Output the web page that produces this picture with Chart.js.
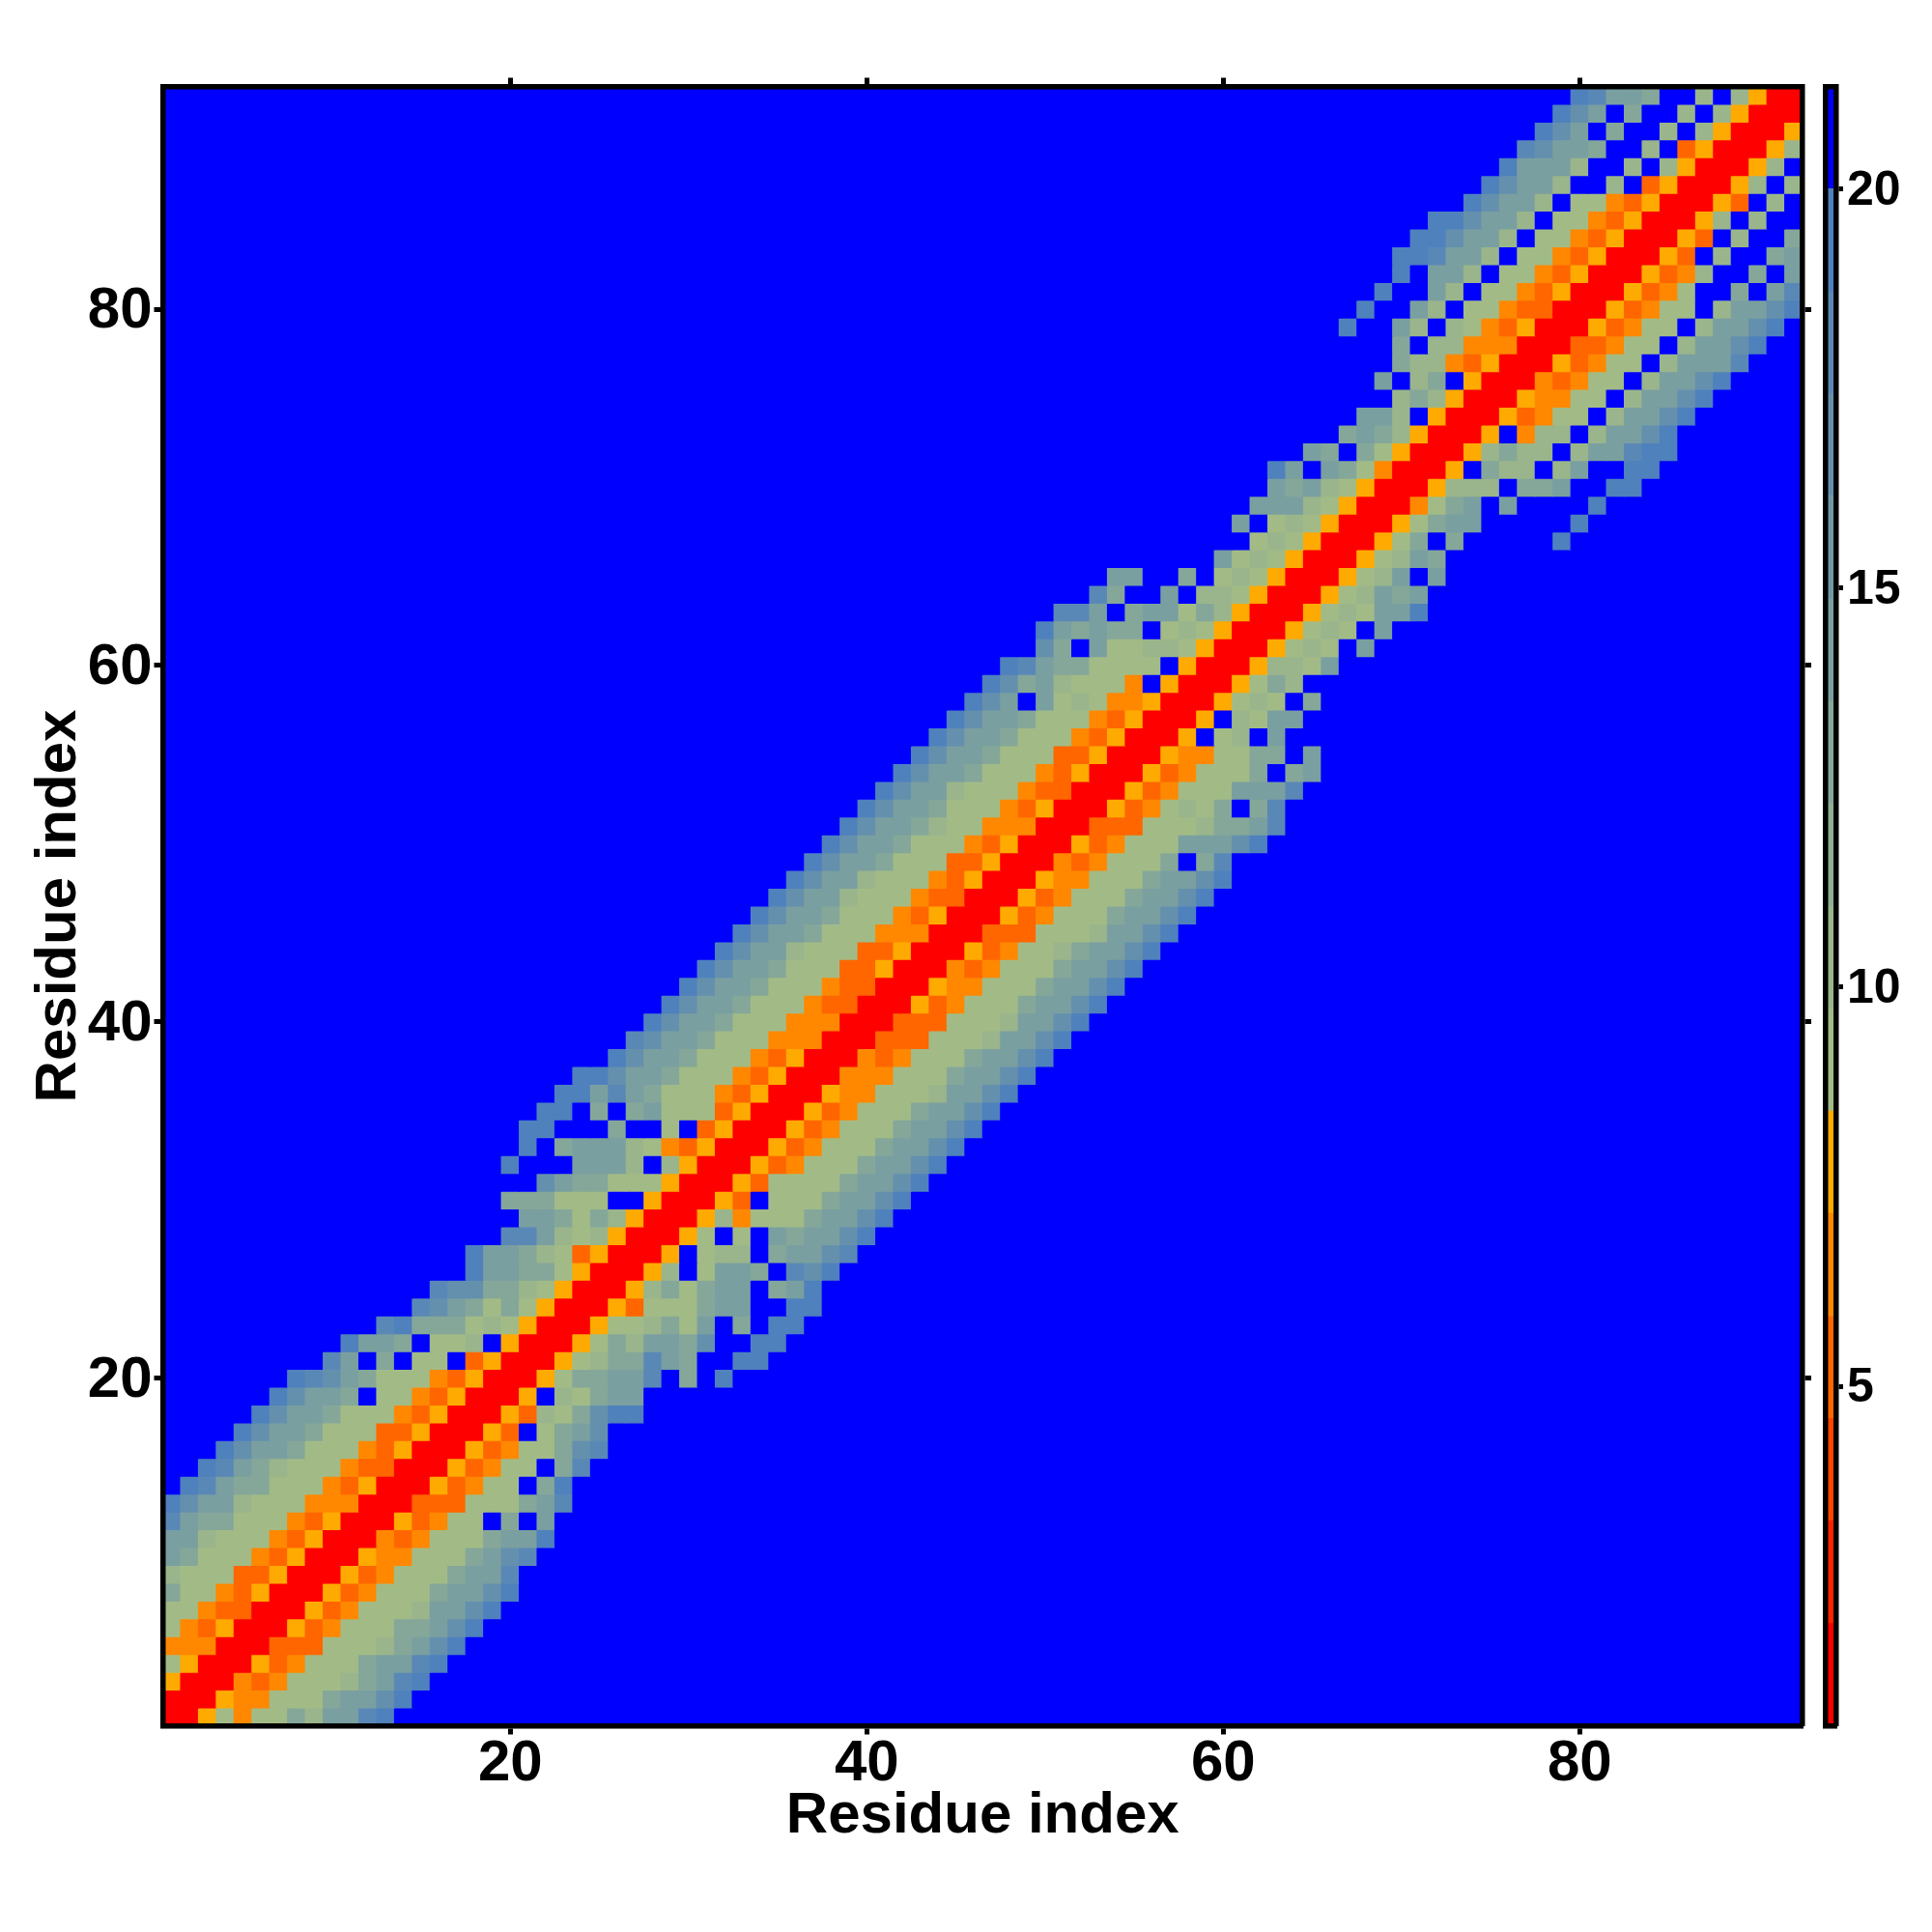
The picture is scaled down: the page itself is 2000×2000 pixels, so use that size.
<!DOCTYPE html>
<html>
<head>
<meta charset="utf-8">
<title>Residue distance map</title>
<script src="https://cdn.jsdelivr.net/npm/chart.js@4/dist/chart.umd.min.js"></script>
<style>
    body { margin: 0; background: #fff; }
    #map { position: absolute; left: 0; top: 0; }
    #bar { position: absolute; left: 1860px; top: 0; }
</style>
</head>
<body>
<canvas id="map" width="2000" height="2000"></canvas>
<canvas id="bar" width="140" height="2000"></canvas>
<script>
// the map is symmetric: one string per residue, read from the diagonal outwards
const bandRows = [
    "RR564668799bc", "RR544666899ac", "RR434666789bc", "RR534666899bc",
    "RR333666789ac", "RR534666889ac", "RR534666799ac", "RR534666899ac",
    "RR534666899b", "RR54466689ab", "RR434666899c", "RR53466f8f9",
    "RR33366689b", "RR53466f8c", "RR53466f8b", "RR534668ab",
    "RR53f689a", "RR53768acc", "RR5f76899", "RR568899bf8fc",
    "RR56788b98ffcc", "RR5687998affcc", "RR5667869f8fcc", "RR53666899ffcc",
    "RR5786899f89c", "RR57f6998fbac", "RR5f677f899ab", "RR56f6f9899ac",
    "RR574666899ac", "RR53f666899ac", "RR536666899ac", "RR534666899ac",
    "RR534666899ac", "RR534666899ac", "RR534666899ac", "RR544666799ac",
    "RR444666899ac", "RR434666899ac", "RR333666799ac", "RR333666799ac",
    "RR534666899ac", "RR544666899ac", "RR434666899ac", "RR534667899ac",
    "RR333666799ac", "RR534666899ac", "RR534666899ac", "RR544666899ac",
    "RR4346668f8b", "RR534666999ac", "RR3336667889b", "RR5346768f8b",
    "RR534666999b", "RR5346668f89", "RR5446688f9", "RR5f67f9",
    "RR5f7699", "RR5676f8", "RR5687", "RR57769",
    "RR5676f9", "RR5676f9", "RR567699c", "RR567989",
    "RR5679f9", "RR56798", "RR568f8fffffc", "RR56899fffffc",
    "RR4689f9ffffc", "RR5777f889ffcc", "RR5f877f79ffcc", "RR57877f799bcc",
    "RR5f477f799ac", "RR53466f799ac", "RR54466f799ac", "RR43466f799ac",
    "RR53466f7999b", "RR33466f799ac", "RR53466f799ac", "RR53466f799ac",
    "RR5346ff8f9b", "RR5347ff8f9", "RR53f7ff89", "RR53f7ff8",
    "RR57f7ff", "RR53f7f", "RR57f7", "RR57f",
    "RR57", "RR5", "RR", "R"
];
const distanceByCode = { R: 1.4, 3: 5.2, 4: 6.5, 5: 7.8, 6: 9.1, 7: 10.4, 8: 12.9, 9: 14.2, a: 16.8, b: 18.1, c: 19.4, f: 20.6 };
const levelEdges = [0.75, 2.03, 3.32, 4.6, 5.88, 7.17, 8.45, 9.73, 11.01, 12.3, 13.58, 14.86, 16.15, 17.43, 18.71, 20, 21.28];
const levelColors = ['#ff0000', '#ff2200', '#ff4400', '#ff6600', '#ff8800', '#ffaa00',
    '#a2bb86', '#9ab58b', '#8faf91', '#85a799', '#7a9fa0', '#6f98a7', '#6490ae', '#5a88b6', '#4f81bd', '#0000ff'];
const residueCount = 92;
const mapTicks = [20, 40, 60, 80];
const barTicks = [5, 10, 15, 20];
const axisTitle = 'Residue index';

function colorFor(value) {
    let i = levelEdges.findIndex(edge => value < edge) - 1;
    return levelColors[i];
}

// fill the whole matrix, cells outside the band stay at the top level
const cells = [];
for (let y = 1; y <= residueCount; y++) {
    for (let x = 1; x <= residueCount; x++) {
        const offset = Math.abs(x - y);
        const base = Math.min(x, y);
        const code = bandRows[base - 1][offset];
        cells.push({ x: x, y: y, v: code ? distanceByCode[code] : distanceByCode.f });
    }
}

const font = { family: '"Liberation Sans", Arial, sans-serif', weight: 'bold', size: 60 };
const barFont = { family: font.family, weight: 'bold', size: 50 };
const black = '#000';

function fit(size) {
    return function(scale) {
        if (scale.isHorizontal()) scale.height = size;
        else scale.width = size;
    };
}

// axis with only tick marks and a border
function markAxis(position, size, ticks, min, max, tickLength) {
    return {
        type: 'linear',
        position: position,
        min: min,
        max: max,
        afterFit: fit(size),
        afterBuildTicks: function(scale) { scale.ticks = ticks.map(v => ({ value: v })); },
        border: { display: true, color: black, width: 5.5, z: 1 },
        grid: { display: true, drawOnChartArea: false, drawTicks: ticks.length > 0, tickColor: black, tickWidth: 5, tickLength: tickLength },
        ticks: { display: false }
    };
}

const xAxis = markAxis('bottom', 213.5, mapTicks, 0.5, residueCount + 0.5, 9);
xAxis.ticks = { display: true, color: black, font: font, padding: -5, maxRotation: 0, autoSkip: false };
xAxis.title = { display: true, text: axisTitle, color: black, font: font, padding: { top: 0, bottom: 84 } };

const yAxis = markAxis('left', 168.5, mapTicks, 0.5, residueCount + 0.5, 9);
yAxis.ticks = { display: true, color: black, font: font, padding: 2, labelOffset: 2.5, autoSkip: false };
yAxis.title = { display: true, text: axisTitle, color: black, font: font, padding: { top: 25.5, bottom: 0 } };

new Chart(document.getElementById('map').getContext('2d'), {
    type: 'scatter',
    data: {
        datasets: [{
            data: cells,
            clip: 0,
            pointStyle: 'rect',
            pointBorderWidth: 0,
            pointBackgroundColor: ctx => colorFor(ctx.raw.v),
            pointRadius: ctx => {
                const s = ctx.chart.scales.x;
                const cell = s.getPixelForValue(2) - s.getPixelForValue(1);
                // one pixel of overlap so the white page does not show in the seams
                return (cell / 2 + 0.5) * Math.SQRT2;
            }
        }]
    },
    options: {
        responsive: false,
        animation: false,
        events: [],
        layout: { padding: 0 },
        plugins: { legend: { display: false }, tooltip: { enabled: false } },
        scales: {
            x: xAxis,
            y: yAxis,
            xTop: markAxis('top', 89.5, mapTicks, 0.5, residueCount + 0.5, 9),
            yRight: markAxis('right', 134, mapTicks, 0.5, residueCount + 0.5, 9)
        }
    }
});

// colour key: one floating bar per level
const barMin = levelEdges[0];
const barMax = levelEdges[levelEdges.length - 1];
const barY = markAxis('right', 99, barTicks, barMin, barMax, 7);
barY.ticks = { display: true, color: black, font: barFont, padding: 4, labelOffset: 2.5, autoSkip: false };

function barX(position, size) {
    return {
        type: 'category',
        position: position,
        afterFit: fit(size),
        border: { display: true, color: black, width: 5.5, z: 1 },
        grid: { display: false },
        ticks: { display: false }
    };
}

new Chart(document.getElementById('bar').getContext('2d'), {
    type: 'bar',
    data: {
        labels: ['level'],
        datasets: levelColors.map((color, i) => ({
            data: [[levelEdges[i], levelEdges[i + 1]]],
            backgroundColor: color,
            borderWidth: 0,
            grouped: false,
            barPercentage: 1,
            categoryPercentage: 1,
            xAxisID: 'x',
            yAxisID: 'y'
        }))
    },
    options: {
        responsive: false,
        animation: false,
        events: [],
        layout: { padding: 0 },
        plugins: { legend: { display: false }, tooltip: { enabled: false } },
        scales: {
            x: barX('bottom', 213.5),
            xTop: barX('top', 89.5),
            y: barY,
            yLeft: markAxis('left', 29.5, [], barMin, barMax, 0)
        }
    }
});
</script>
</body>
</html>
